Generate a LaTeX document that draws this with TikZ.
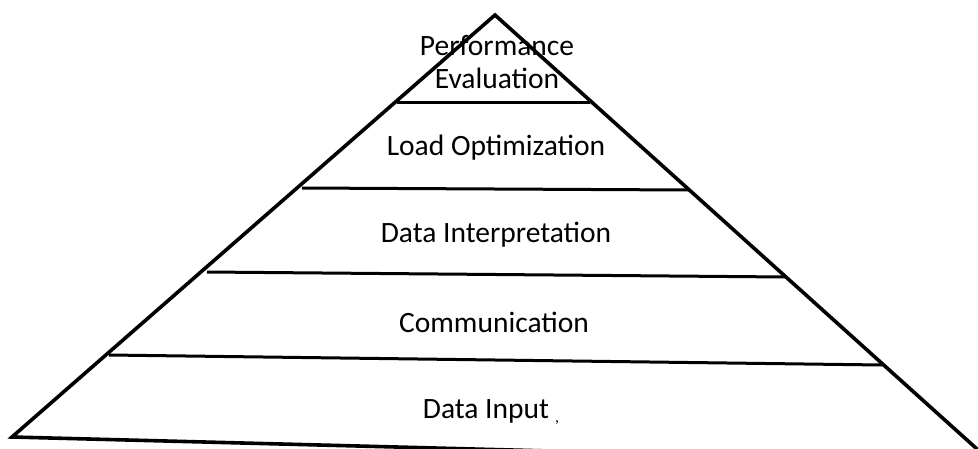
\documentclass[tikz,border=0pt]{standalone}
\usepackage{fontspec}
\setmainfont{Carlito}
\begin{document}
\begin{tikzpicture}[x=1pt,y=-1pt,
  edge/.style={line width=3.6pt,line join=miter,black},
  layer/.style={line width=3pt,black},
  lbl/.style={font=\fontsize{29.5}{33}\selectfont,align=center,inner sep=0pt}]
\useasboundingbox (0,0) rectangle (978,448);
\clip (0,0) rectangle (978,448);
\coordinate (apex) at (495,15);
\coordinate (bl) at (12,437);
\coordinate (br) at (992,462.5);
% layer lines
\coordinate (l1a) at (397,102); \coordinate (l1b) at (590,102);
\coordinate (l2a) at (302,188); \coordinate (l2b) at (689,190);
\coordinate (l3a) at (207,272); \coordinate (l3b) at (786,277);
\coordinate (l4a) at (109,355); \coordinate (l4b) at (882,365);
\draw[layer] (l1a) -- (l1b);
\draw[layer] (l2a) -- (l2b);
\draw[layer] (l3a) -- (l3b);
\draw[layer] (l4a) -- (l4b);
\draw[edge] (apex) -- (bl) -- (br) -- cycle;
\node[lbl] (pe) at (497,62) {Performance\\Evaluation};
\node[lbl] (lo) at (496,148) {Load Optimization};
\node[lbl] (di) at (496,235) {Data Interpretation};
\node[lbl] (co) at (494,322) {Communication};
\node[lbl] (dn) at (486,411) {Data Input};
\node[inner sep=0pt,font=\fontsize{16}{16}\selectfont] (mk) at (557,423) {,};
\end{tikzpicture}
\end{document}
